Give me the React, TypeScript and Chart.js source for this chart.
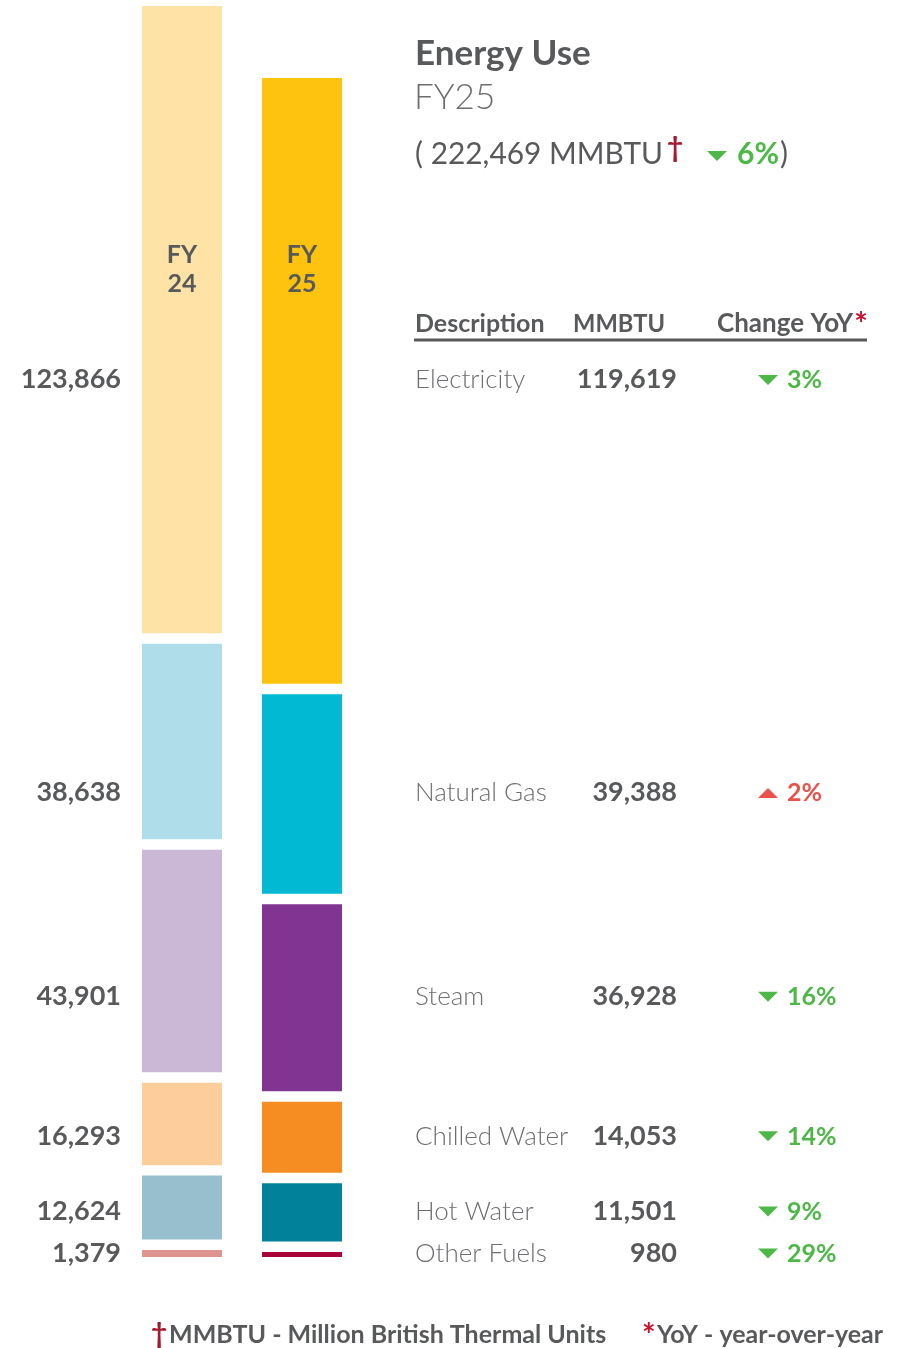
import React, { useEffect, useRef } from "react";
import { Chart, registerables } from "chart.js";

Chart.register(...registerables);

const categories = ["FY24", "FY25"];
const sources = ["Electricity", "Natural Gas", "Steam", "Chilled Water", "Hot Water", "Other Fuels"];
const fy24Values = [123866, 38638, 43901, 16293, 12624, 1379];
const fy25Values = [119619, 39388, 36928, 14053, 11501, 980];
const yoyChange = [3, 2, 16, 14, 9, 29];
const yoyUp = [false, true, false, false, false, false];
const fy24Colors = ["#FFE3A6", "#AFDEEA", "#CBB8D6", "#FDCD9B", "#97BFCD", "#DE9590"];
const fy25Colors = ["#FEC30F", "#01B9D3", "#823493", "#F68D22", "#02829A", "#AA0338"];
const totalFY25 = 222469;
const totalChange = 6;
const GAP = 2070;

const GRAY = "#58595B";
const LIGHT = "#6D6E71";
const GREEN = "#4DB848";
const RED = "#E8524A";
const CRIMSON = "#A6192E";
const STAR = "#C8102E";
const FONT = "Lato, 'Open Sans', sans-serif";

const fmt = (n: number) => n.toLocaleString("en-US");

function tri(ctx: CanvasRenderingContext2D, x: number, yc: number, up: boolean, color: string) {
  ctx.fillStyle = color;
  ctx.beginPath();
  if (up) {
    ctx.moveTo(x, yc + 5);
    ctx.lineTo(x + 20, yc + 5);
    ctx.lineTo(x + 10, yc - 5);
  } else {
    ctx.moveTo(x, yc - 5);
    ctx.lineTo(x + 20, yc - 5);
    ctx.lineTo(x + 10, yc + 5);
  }
  ctx.closePath();
  ctx.fill();
}

export default function App() {
  const ref = useRef<HTMLCanvasElement>(null);

  useEffect(() => {
    if (!ref.current) return;
    const datasets: any[] = [];
    const realIdx: number[] = new Array(sources.length);
    for (let k = sources.length - 1; k >= 0; k--) {
      realIdx[k] = datasets.length;
      datasets.push({
        label: sources[k],
        data: [fy24Values[k], fy25Values[k]],
        backgroundColor: [fy24Colors[k], fy25Colors[k]],
        borderWidth: 0,
        stack: "s",
      });
      if (k > 0) {
        datasets.push({
          label: "gap",
          data: [GAP, GAP],
          backgroundColor: "rgba(0,0,0,0)",
          borderWidth: 0,
          stack: "s",
        });
      }
    }
    const yMax = fy24Values.reduce((a, b) => a + b, 0) + GAP * (sources.length - 1);

    const textPlugin = {
      id: "texts",
      afterDraw(chart: any) {
        const ctx: CanvasRenderingContext2D = chart.ctx;
        ctx.save();
        ctx.textBaseline = "alphabetic";

        // FY labels inside bars
        const topMeta = chart.getDatasetMeta(realIdx[0]);
        ctx.fillStyle = GRAY;
        ctx.font = `bold 25px ${FONT}`;
        ctx.textAlign = "center";
        categories.forEach((c, i) => {
          const x = topMeta.data[i].x;
          ctx.fillText(c.slice(0, 2), x, 263);
          ctx.fillText(c.slice(2), x, 292);
        });

        // Title
        ctx.textAlign = "left";
        ctx.fillStyle = GRAY;
        ctx.font = `bold 35px ${FONT}`;
        ctx.fillText("Energy Use", 415, 65, 178);
        ctx.fillStyle = LIGHT;
        ctx.font = `300 35px ${FONT}`;
        ctx.fillText("FY25", 414, 109, 82);
        ctx.fillStyle = GRAY;
        ctx.font = `30px ${FONT}`;
        const t1 = `( ${fmt(totalFY25)} MMBTU`;
        ctx.fillText(t1, 415, 164, 248);
        ctx.fillStyle = CRIMSON;
        ctx.font = `bold 28px ${FONT}`;
        ctx.fillText("\u2020", 667, 157);
        tri(ctx, 707, 156, false, GREEN);
        ctx.fillStyle = GREEN;
        ctx.font = `bold 30px ${FONT}`;
        ctx.fillText(`${totalChange}%`, 737, 164);
        const x0 = 737 + ctx.measureText(`${totalChange}%`).width + 1;
        ctx.fillStyle = GRAY;
        ctx.font = `30px ${FONT}`;
        ctx.fillText(")", x0, 164);

        // Header
        ctx.fillStyle = GRAY;
        ctx.font = `bold 25px ${FONT}`;
        ctx.fillText("Description", 415, 332, 131);
        ctx.fillText("MMBTU", 573, 332, 92);
        ctx.font = `bold 26px ${FONT}`;
        ctx.fillText("Change YoY", 717, 332);
        const xs = 717 + ctx.measureText("Change YoY").width + 1;
        ctx.fillStyle = STAR;
        ctx.font = `bold 32px ${FONT}`;
        ctx.fillText("*", xs, 336);
        ctx.strokeStyle = GRAY;
        ctx.lineWidth = 3;
        ctx.beginPath();
        ctx.moveTo(414, 340);
        ctx.lineTo(867, 340);
        ctx.stroke();

        // Rows
        sources.forEach((s, i) => {
          const el = chart.getDatasetMeta(realIdx[i]).data[1];
          const yc = (el.y + el.base) / 2;
          const yb = yc + 7.5;
          ctx.textAlign = "right";
          ctx.fillStyle = GRAY;
          ctx.font = `bold 27px ${FONT}`;
          ctx.fillText(fmt(fy24Values[i]), 121, yb);
          ctx.fillText(fmt(fy25Values[i]), 677, yb);
          ctx.textAlign = "left";
          ctx.fillStyle = LIGHT;
          ctx.font = `300 26px ${FONT}`;
          ctx.fillText(s, 415, yb);
          const col = yoyUp[i] ? RED : GREEN;
          tri(ctx, 758, yc - 1, yoyUp[i], col);
          ctx.fillStyle = col;
          ctx.font = `bold 25px ${FONT}`;
          ctx.fillText(`${yoyChange[i]}%`, 787, yb);
        });

        // Footer
        ctx.textAlign = "left";
        ctx.fillStyle = CRIMSON;
        ctx.font = `bold 28px ${FONT}`;
        ctx.fillText("\u2020", 151, 1343);
        ctx.fillStyle = GRAY;
        ctx.font = `bold 25px ${FONT}`;
        ctx.fillText("MMBTU - Million British Thermal Units", 169, 1343, 438);
        ctx.fillStyle = STAR;
        ctx.font = `bold 32px ${FONT}`;
        ctx.fillText("*", 642, 1347);
        ctx.fillStyle = GRAY;
        ctx.font = `bold 25px ${FONT}`;
        ctx.fillText("YoY - year-over-year", 657, 1343, 226);
        ctx.restore();
      },
    };

    const chart = new Chart(ref.current, {
      type: "bar",
      data: { labels: categories, datasets },
      options: {
        animation: false,
        responsive: false,
        maintainAspectRatio: false,
        layout: { padding: { left: 122, right: 538, top: 6, bottom: 91 } },
        datasets: { bar: { categoryPercentage: 2 / 3, barPercentage: 1 } },
        plugins: { legend: { display: false }, tooltip: { enabled: false }, title: { display: false } },
        scales: {
          x: { display: false, stacked: true },
          y: { display: false, stacked: true, min: 0, max: yMax },
        },
      },
      plugins: [textPlugin],
    } as any);
    return () => chart.destroy();
  }, []);

  return (
    <div style={{ position: "absolute", left: 0, top: 0, width: 900, height: 1348, background: "#fff" }}>
      <canvas ref={ref} width={900} height={1348} style={{ display: "block", width: 900, height: 1348 }} />
    </div>
  );
}
